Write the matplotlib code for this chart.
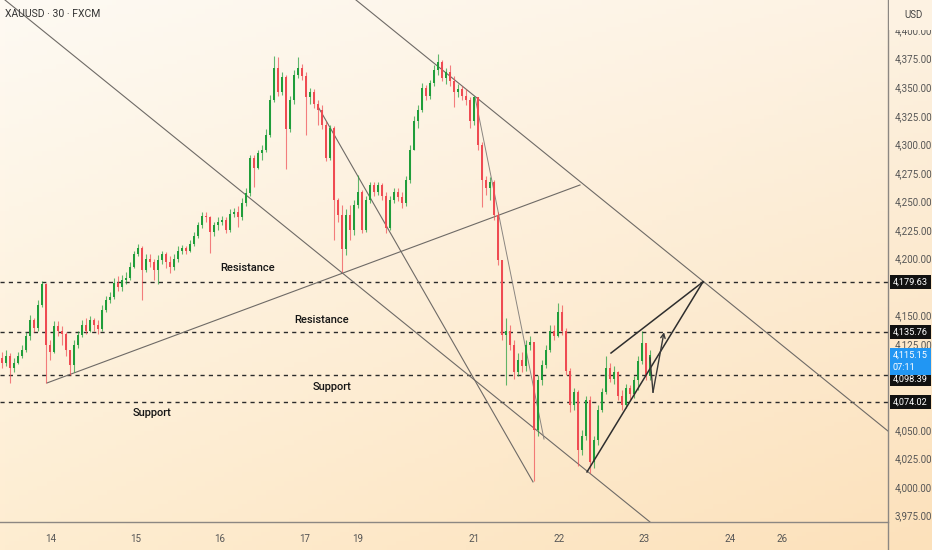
import numpy as np
import matplotlib.pyplot as plt
from matplotlib.patches import Rectangle
from matplotlib.lines import Line2D

plt.rcParams['font.family'] = ['Roboto', 'DejaVu Sans']

# 30-minute candles, XAUUSD (FXCM)
open0 = 4113
closes = [4109, 4115, 4104, 4109, 4115, 4120, 4132, 4146, 4139, 4159,
          4178, 4124, 4118, 4141, 4137, 4134, 4120, 4107, 4124, 4133,
          4142, 4137, 4146, 4142, 4138, 4155, 4164, 4166, 4179, 4175,
          4181, 4183, 4193, 4204, 4209, 4190, 4200, 4197, 4190, 4199,
          4204, 4197, 4193, 4200, 4207, 4209, 4207, 4213, 4220, 4229,
          4237, 4236, 4223, 4229, 4232, 4234, 4225, 4239, 4241, 4236,
          4249, 4257, 4288, 4279, 4292, 4295, 4308, 4339, 4367, 4346,
          4359, 4313, 4339, 4361, 4367, 4360, 4341, 4346, 4335, 4330,
          4317, 4288, 4314, 4251, 4238, 4208, 4238, 4225, 4247, 4258,
          4225, 4251, 4264, 4258, 4264, 4255, 4227, 4251, 4258, 4254,
          4249, 4269, 4295, 4320, 4330, 4349, 4342, 4354, 4365, 4372,
          4358, 4363, 4355, 4346, 4348, 4342, 4339, 4320, 4341, 4299,
          4269, 4262, 4267, 4238, 4199, 4133, 4137, 4124, 4101, 4111,
          4106, 4124, 4127, 4050, 4094, 4107, 4120, 4137, 4132, 4153,
          4137, 4102, 4072, 4083, 4032, 4045, 4076, 4022, 4041, 4067,
          4083, 4104, 4095, 4101, 4080, 4072, 4087, 4081, 4094, 4110,
          4126, 4097, 4115.15]
highs = [4118, 4120, 4117, 4113, 4118, 4124, 4136, 4151, 4148, 4164,
         4180, 4179, 4129, 4145, 4145, 4141, 4136, 4120, 4129, 4137,
         4146, 4148, 4150, 4148, 4146, 4159, 4167, 4171, 4183, 4185,
         4186, 4188, 4197, 4207, 4213, 4211, 4204, 4204, 4200, 4203,
         4207, 4206, 4202, 4204, 4211, 4212, 4211, 4216, 4223, 4232,
         4241, 4241, 4237, 4232, 4236, 4237, 4236, 4243, 4244, 4246,
         4253, 4262, 4291, 4291, 4295, 4299, 4313, 4343, 4377, 4376,
         4363, 4361, 4342, 4365, 4376, 4370, 4363, 4349, 4348, 4339,
         4334, 4320, 4317, 4316, 4253, 4247, 4243, 4247, 4251, 4273,
         4260, 4255, 4267, 4267, 4267, 4266, 4258, 4255, 4262, 4262,
         4258, 4272, 4299, 4325, 4334, 4354, 4352, 4356, 4369, 4379,
         4374, 4367, 4369, 4360, 4353, 4351, 4348, 4341, 4342, 4341,
         4302, 4272, 4271, 4269, 4241, 4199, 4148, 4142, 4129, 4117,
         4118, 4129, 4132, 4124, 4098, 4111, 4124, 4142, 4142, 4161,
         4159, 4139, 4104, 4087, 4085, 4050, 4080, 4080, 4045, 4072,
         4087, 4115, 4109, 4106, 4102, 4085, 4090, 4089, 4097, 4115,
         4137, 4124, 4120]
lows = [4104, 4106, 4091, 4101, 4108, 4113, 4118, 4129, 4136, 4137,
        4158, 4091, 4111, 4117, 4132, 4124, 4115, 4098, 4101, 4122,
        4131, 4134, 4136, 4137, 4134, 4137, 4153, 4161, 4165, 4172,
        4172, 4178, 4181, 4192, 4202, 4164, 4188, 4193, 4181, 4178,
        4195, 4192, 4187, 4190, 4197, 4204, 4204, 4206, 4211, 4218,
        4227, 4232, 4205, 4220, 4225, 4229, 4222, 4223, 4236, 4228,
        4234, 4246, 4255, 4263, 4278, 4286, 4293, 4306, 4337, 4342,
        4343, 4278, 4311, 4335, 4358, 4356, 4308, 4335, 4332, 4317,
        4313, 4285, 4286, 4216, 4232, 4188, 4203, 4216, 4221, 4244,
        4222, 4223, 4249, 4255, 4256, 4251, 4222, 4225, 4249, 4250,
        4244, 4246, 4266, 4295, 4314, 4328, 4339, 4340, 4351, 4361,
        4355, 4353, 4351, 4333, 4341, 4339, 4334, 4314, 4317, 4295,
        4245, 4256, 4251, 4234, 4194, 4129, 4089, 4120, 4095, 4097,
        4101, 4102, 4120, 4005, 4045, 4089, 4104, 4118, 4129, 4131,
        4133, 4098, 4066, 4067, 4018, 4028, 4041, 4012, 4017, 4037,
        4066, 4081, 4092, 4090, 4076, 4067, 4069, 4076, 4078, 4085,
        4108, 4094, 4094]

day_pos = [12.1, 33.4, 54.5, 75.7, 88.8, 118.0, 139.4, 160.6, 182.0, 195.0]
day_lbl = ['14', '15', '16', '17', '19', '21', '22', '23', '24', '26']
# scale ticks that are not hidden by the price labels
price_ticks = [3975, 4000, 4025, 4050, 4125, 4150, 4200, 4225, 4250,
               4275, 4300, 4325, 4350, 4375, 4400]

levels = [4179.63, 4135.76, 4098.39, 4074.02]
level_lbl_pos = [4179.63, 4135.76, 4094.5, 4074.02]
last_price = 4115.15
countdown = '07:11'

# drawn lines, (bar, price) endpoints
channel_up = [(88.5, 4426.3), (221.5, 4049.0)]
channel_dn = [(0.75, 4426.3), (162.0, 3969.4)]
rising = [(11.25, 4091.1), (144.5, 4264.4)]
steep1 = [(79.0, 4333.0), (132.75, 4004.5)]
steep2 = [(118.25, 4341.4), (135.5, 4042.0)]
wedge_lo = [(146.25, 4013.2), (175.25, 4179.6)]
wedge_hi = [(152.25, 4117.3), (175.25, 4179.6)]
proj = [(162.0, 4113.0), (162.75, 4083.0), (165.5, 4135.5)]

notes = [('Resistance', 61.5, 4192.0), ('Resistance', 80.0, 4146.0),
         ('Support', 82.5, 4087.5), ('Support', 37.5, 4065.0)]

W, H = 932, 550
PX = 1.1425  # pixels per dollar on the price scale
fig = plt.figure(figsize=(W / 100, H / 100), dpi=100)

# warm background gradient over the whole figure
tl = np.array([254, 250, 243]) / 255
tr = np.array([253, 242, 226]) / 255
bl = np.array([254, 237, 209]) / 255
br = np.array([252, 225, 187]) / 255
gx = np.linspace(0, 1, 200)[None, :, None]
gy = np.linspace(0, 1, 120)[:, None, None]
grad = (1 - gy) * ((1 - gx) * tl + gx * tr) + gy * ((1 - gx) * bl + gx * br)
bg = fig.add_axes([0, 0, 1, 1])
bg.imshow(grad, aspect='auto', extent=[0, 1, 0, 1], origin='upper')
bg.set_axis_off()

ax = fig.add_axes([0, 28 / H, 888 / W, 522 / H])
ax.set_facecolor('none')
ax.set_xlim(-0.5, 221.5)
ax.set_ylim(3969.4, 4426.3)

up_c, dn_c = '#1f9d3a', '#ef4b52'
o = np.array([open0] + closes[:-1], dtype=float)
c = np.array(closes, dtype=float)
hi = np.array(highs, dtype=float)
lo = np.array(lows, dtype=float)
x = np.arange(len(c))
cols = np.where(c >= o, up_c, dn_c)
ax.vlines(x, lo, hi, colors=cols, lw=0.8, alpha=0.7, zorder=3)
body = np.maximum(np.abs(c - o), 0.6)
ax.bar(x, body, bottom=np.minimum(o, c), width=0.55, color=cols, zorder=4)

# horizontal levels
for lv in levels:
    ax.axhline(lv, color='#2b2b2b', lw=1.0, ls=(0, (3, 3)), zorder=2)

# trend lines
for seg in [channel_up, channel_dn, rising, steep1]:
    ax.plot(*zip(*seg), color='#6e6a66', lw=0.8, zorder=2)
ax.plot(*zip(*steep2), color='#8a8580', lw=0.7, zorder=2)
for seg in [wedge_lo, wedge_hi]:
    ax.plot(*zip(*seg), color='#2e2e2e', lw=1.1, zorder=5)
ax.plot(*zip(*proj[:2]), color='#3a3a3a', lw=1.0, zorder=5)
ax.annotate('', xy=proj[2], xytext=proj[1],
            arrowprops=dict(arrowstyle='->', color='#3a3a3a', lw=1.0,
                            shrinkA=0, shrinkB=0, mutation_scale=8), zorder=5)

for txt, bx, py in notes:
    ax.text(bx, py, txt, ha='center', va='center', fontsize=8,
            fontweight='medium', color='#151515', zorder=6)

# axes styling
for s in ['top', 'left', 'right']:
    ax.spines[s].set_visible(False)
ax.spines['bottom'].set_color('#8c8782')
ax.spines['bottom'].set_linewidth(1.0)
ax.yaxis.tick_right()
ax.set_yticks(price_ticks)
ax.set_yticklabels(['{:,.2f}'.format(v) for v in price_ticks])
ax.tick_params(axis='y', length=0, pad=5, labelsize=7, labelcolor='#555555')
ax.set_xticks(day_pos)
ax.set_xticklabels(day_lbl)
ax.tick_params(axis='x', length=0, pad=9, labelsize=7, labelcolor='#555555')

fig.add_artist(Line2D([888 / W, 888 / W], [0, 1], color='#8c8782', lw=1.0))

# header cover + currency label
fig.add_artist(Rectangle((889 / W, 1 - 30 / H), 43 / W, 30 / H,
                         facecolor=grad[2, -8], edgecolor='none', zorder=5))
fig.text(904 / W, 1 - 15 / H, 'USD', fontsize=7, color='#444444',
         va='center', ha='left', zorder=6)

# price labels on the scale
ytr = ax.get_yaxis_transform()
box_h = 14 / PX
lbl_font = dict(fontsize=6.6, color='white', ha='left', va='center',
                clip_on=False, zorder=8)
for lv, pos in zip(levels, level_lbl_pos):
    ax.add_patch(Rectangle((1.002, pos - box_h / 2), 0.046, box_h,
                           transform=ytr, facecolor='#111111', edgecolor='none',
                           clip_on=False, zorder=7))
    ax.text(1.0056, pos, '{:,.2f}'.format(lv), transform=ytr, **lbl_font)
blue_top = last_price + 7 / PX
blue_bot = last_price - 20 / PX
ax.add_patch(Rectangle((1.002, blue_bot), 0.046, blue_top - blue_bot,
                       transform=ytr, facecolor='#2196f3', edgecolor='none',
                       clip_on=False, zorder=7))
ax.text(1.0056, last_price, '{:,.2f}'.format(last_price), transform=ytr,
        **lbl_font)
ax.text(1.0056, last_price - 12 / PX, countdown, transform=ytr, **lbl_font)

fig.text(5 / W, 1 - 14 / H, 'XAUUSD \u00b7 30 \u00b7 FXCM', fontsize=7.5,
         color='#333333', va='center', ha='left')

fig.savefig('out.png', dpi=100)
